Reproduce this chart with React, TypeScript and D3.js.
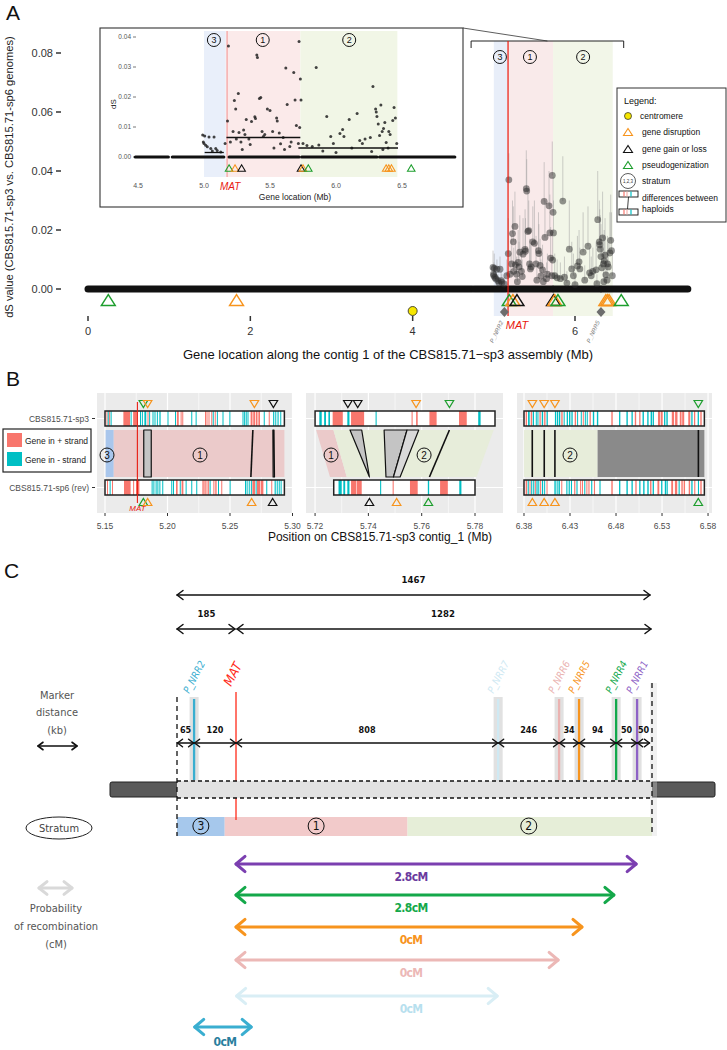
import React from "react";
import * as d3 from "d3";

const FONT = "'Liberation Sans', Arial, sans-serif";
const CFONT = "'DejaVu Sans Condensed','DejaVu Sans',sans-serif";

// ---------------- Panel A data ----------------
const mainXTicks = [0, 2, 4, 6];
const mainYTicks = [0, 0.02, 0.04, 0.06, 0.08];
const insetXTicks = [4.5, 5.0, 5.5, 6.0, 6.5];
const insetYTicks = [0, 0.01, 0.02, 0.03, 0.04];
const strataIds = ["3", "1", "2"];
const strataStart = [5.0, 5.165, 5.73];
const strataEnd = [5.165, 5.73, 6.465];
const strataLabelPos = [5.075, 5.445, 6.1];
const strataMedian = [0.0015, 0.0065, 0.003];
const medianStart = [5.005, 5.17, 5.715];
const medianEnd = [5.15, 5.73, 6.47];
const matPos = 5.175;
const centromerePos = 4.0;
const bracketRange = [4.72, 6.6];
const zeroRuns = [[0, 4.73], [4.76, 5.15], [5.19, 5.72], [5.74, 6.31], [6.33, 7.39]];
// [position Mb, dS, upper bound]
const dsPoints = [
  [4.99, 0.0073, 0.013], [5.005, 0.007, 0.012], [5.038, 0.0067, 0.01], [5.076, 0.0067, 0.011],
  [4.995, 0.005, 0.008], [5.013, 0.0039, 0.007], [5.025, 0.0034, 0.006], [5.051, 0.0028, 0.005],
  [5.089, 0.0028, 0.006], [5.0, 0.0045, 0.009], [5.063, 0.002, 0.004], [5.1, 0.0022, 0.005], [5.127, 0.0017, 0.004],
  [5.185, 0.037, 0.046], [5.178, 0.012, 0.024], [5.16, 0.0045, 0.01], [5.2, 0.005, 0.012],
  [5.23, 0.0188, 0.03], [5.26, 0.0212, 0.033], [5.24, 0.016, 0.028], [5.22, 0.0085, 0.018],
  [5.245, 0.006, 0.014], [5.265, 0.0082, 0.017], [5.28, 0.005, 0.011], [5.3, 0.009, 0.02],
  [5.31, 0.0075, 0.016], [5.32, 0.0125, 0.025], [5.34, 0.006, 0.014], [5.36, 0.0118, 0.024],
  [5.385, 0.0134, 0.027], [5.39, 0.0128, 0.024], [5.4, 0.034, 0.047], [5.405, 0.0332, 0.044],
  [5.42, 0.0195, 0.034], [5.43, 0.0198, 0.03], [5.44, 0.0085, 0.017], [5.46, 0.0075, 0.016],
  [5.48, 0.016, 0.028], [5.5, 0.0155, 0.03], [5.52, 0.0085, 0.018], [5.53, 0.003, 0.008],
  [5.55, 0.013, 0.026], [5.555, 0.012, 0.022], [5.58, 0.0044, 0.01], [5.6, 0.0065, 0.015],
  [5.62, 0.0297, 0.043], [5.63, 0.0175, 0.03], [5.65, 0.0035, 0.009], [5.66, 0.005, 0.012],
  [5.68, 0.0282, 0.04], [5.69, 0.019, 0.032], [5.7, 0.0105, 0.021], [5.72, 0.0385, 0.05],
  [5.73, 0.026, 0.038], [5.735, 0.019, 0.03], [5.725, 0.0098, 0.02], [5.715, 0.0045, 0.011],
  [5.45, 0.0068, 0.015], [5.35, 0.0042, 0.01], [5.29, 0.0025, 0.007], [5.57, 0.008, 0.017], [5.61, 0.0025, 0.007],
  [5.75, 0.0045, 0.012], [5.78, 0.0038, 0.01], [5.82, 0.0035, 0.009], [5.85, 0.0298, 0.045],
  [5.87, 0.004, 0.011], [5.9, 0.002, 0.006], [5.93, 0.0135, 0.03], [5.96, 0.0068, 0.016],
  [5.98, 0.0045, 0.012], [6.0, 0.0015, 0.005], [6.03, 0.0078, 0.018], [6.05, 0.0092, 0.02],
  [6.06, 0.0068, 0.014], [6.1, 0.0125, 0.026], [6.12, 0.003, 0.008], [6.16, 0.0145, 0.028],
  [6.18, 0.0055, 0.014], [6.2, 0.0045, 0.011], [6.22, 0.006, 0.014], [6.26, 0.0065, 0.016],
  [6.28, 0.0235, 0.04], [6.3, 0.016, 0.03], [6.305, 0.015, 0.027], [6.31, 0.0135, 0.025],
  [6.32, 0.011, 0.022], [6.33, 0.0072, 0.016], [6.34, 0.0173, 0.033], [6.35, 0.0085, 0.018],
  [6.36, 0.0095, 0.02], [6.37, 0.0115, 0.024], [6.38, 0.0048, 0.012], [6.4, 0.0085, 0.018],
  [6.41, 0.0075, 0.016], [6.43, 0.0122, 0.026], [6.44, 0.0165, 0.032], [6.45, 0.013, 0.026],
  [6.46, 0.0045, 0.012], [6.395, 0.003, 0.008], [6.355, 0.0025, 0.007], [6.27, 0.0018, 0.005],
];
const eventPosA = [0.25, 1.83, 5.19, 5.235, 5.285, 5.735, 5.75, 5.79, 6.38, 6.4, 6.42, 6.57];
const eventTypeA = ["pseudo", "dis", "pseudo", "dis", "gain", "gain", "dis", "pseudo", "dis", "dis", "dis", "pseudo"];
const markerNamesA = ["P_NRR2", "P_NRR5"];
const markerPosA = [5.13, 6.32];
const legendALabels = ["centromere", "gene disruption", "gene gain or loss", "pseudogenization", "stratum"];

// ---------------- Panel B data ----------------
const facetDomains = [[5.1436, 5.2996], [5.7166, 5.7905], [6.3724, 6.5843]];
const facetTicks = [[5.15, 5.2, 5.25, 5.3], [5.72, 5.74, 5.76, 5.78], [6.38, 6.43, 6.48, 6.53, 6.58]];
const facetMinor = [[5.175, 5.225, 5.275], [5.73, 5.75, 5.77], [6.405, 6.455, 6.505, 6.555]];
const barsSp3 = [[5.15, 5.2935], [5.72, 5.7875], [6.38, 6.576]];
const barsSp6 = [[5.15, 5.2935], [5.727, 5.78], [6.38, 6.576]];
const rowLabels = ["CBS815.71-sp3", "CBS815.71-sp6 (rev)"];
// [start, end, strand]
const genesF1Sp3 = [
  [5.1512, 5.1518, 1], [5.1522, 5.1528, -1], [5.1533, 5.1539, 1], [5.1545, 5.1551, -1],
  [5.1647, 5.17, 1], [5.1705, 5.1712, -1], [5.1725, 5.1755, 1],
  [5.178, 5.1788, -1], [5.1795, 5.1803, -1], [5.1815, 5.183, -1], [5.184, 5.1848, 1], [5.1853, 5.186, -1],
  [5.188, 5.1888, -1], [5.1896, 5.1904, -1], [5.1915, 5.1923, -1], [5.1935, 5.1945, -1],
  [5.2, 5.2006, -1], [5.206, 5.2068, -1], [5.2075, 5.209, 1], [5.2105, 5.2112, 1], [5.2118, 5.2124, 1],
  [5.219, 5.2197, -1], [5.2225, 5.2232, -1],
  [5.23, 5.2306, 1], [5.2312, 5.232, 1], [5.2328, 5.2334, 1], [5.235, 5.2357, 1], [5.2362, 5.2368, -1], [5.2378, 5.2384, 1], [5.2395, 5.2401, -1],
  [5.244, 5.2447, -1], [5.2495, 5.2502, -1],
  [5.26, 5.2607, -1], [5.2613, 5.262, -1], [5.2626, 5.2633, -1], [5.264, 5.2648, -1],
  [5.2665, 5.268, 1], [5.2686, 5.27, 1], [5.2706, 5.272, 1], [5.2727, 5.274, 1],
  [5.277, 5.2776, -1], [5.281, 5.2816, 1],
  [5.2845, 5.2854, -1], [5.2862, 5.287, -1], [5.288, 5.2889, -1], [5.2902, 5.291, -1],
];
const genesF1Sp6 = [
  [5.1516, 5.1522, 1], [5.1537, 5.1543, -1], [5.1556, 5.1562, 1],
  [5.1652, 5.1705, 1], [5.1725, 5.1731, 1], [5.1748, 5.1775, 1],
  [5.1873, 5.188, -1], [5.1887, 5.1894, -1], [5.1905, 5.1912, -1], [5.1919, 5.1926, -1], [5.1935, 5.1942, -1], [5.1958, 5.1965, -1],
  [5.203, 5.2036, -1], [5.2044, 5.205, -1], [5.2068, 5.2081, 1], [5.2098, 5.2104, -1], [5.2113, 5.2127, 1], [5.2145, 5.2151, -1],
  [5.219, 5.2196, -1], [5.223, 5.2236, -1],
  [5.2279, 5.229, 1], [5.2295, 5.2306, 1], [5.2312, 5.232, 1], [5.2325, 5.2332, 1], [5.2337, 5.2343, -1],
  [5.2367, 5.2375, 1], [5.2382, 5.2393, 1], [5.2404, 5.241, -1], [5.243, 5.2437, 1],
  [5.2497, 5.2503, -1],
  [5.262, 5.2627, -1], [5.2633, 5.264, -1], [5.265, 5.2657, -1], [5.2667, 5.2673, -1],
  [5.2679, 5.27, 1], [5.2705, 5.2711, -1], [5.2716, 5.274, 1], [5.2745, 5.2767, 1],
  [5.279, 5.2796, -1], [5.283, 5.2836, 1],
  [5.2857, 5.2866, -1], [5.2874, 5.2882, -1], [5.289, 5.2898, -1], [5.2905, 5.2913, -1],
];
const genesF2Sp3 = [
  [5.7216, 5.7225, -1], [5.7234, 5.7241, -1], [5.725, 5.7256, -1], [5.7266, 5.7304, 1],
  [5.7321, 5.7329, -1], [5.7335, 5.7384, 1], [5.7427, 5.7431, -1], [5.7562, 5.7566, 1],
  [5.7579, 5.7585, 1], [5.7629, 5.7656, 1], [5.774, 5.7769, 1], [5.7812, 5.7821, -1],
];
const genesF2Sp6 = [
  [5.7288, 5.73, -1], [5.7306, 5.7313, -1], [5.7321, 5.7329, -1], [5.7335, 5.7354, 1],
  [5.7356, 5.7375, 1], [5.7444, 5.7448, -1], [5.7491, 5.7495, 1], [5.7556, 5.7585, 1],
  [5.7623, 5.7628, -1], [5.7669, 5.7698, 1], [5.7741, 5.7749, -1],
];
const genesF3Sp3 = [
  [6.3818, 6.3833, 1], [6.3844, 6.3862, -1], [6.3873, 6.3888, 1], [6.3895, 6.3909, -1],
  [6.3928, 6.3939, -1], [6.3946, 6.3957, -1], [6.3968, 6.3982, 1], [6.3993, 6.4008, -1],
  [6.4019, 6.4034, 1], [6.4045, 6.4059, -1], [6.4136, 6.415, -1], [6.4158, 6.4172, -1],
  [6.418, 6.4194, -1], [6.4205, 6.422, 1], [6.4231, 6.4242, -1], [6.4264, 6.4278, -1],
  [6.4289, 6.4304, -1], [6.4315, 6.4329, -1], [6.4351, 6.4366, 1], [6.4377, 6.4388, -1],
  [6.4417, 6.4428, -1], [6.4439, 6.445, 1], [6.4461, 6.4472, -1], [6.4482, 6.4493, -1],
  [6.4512, 6.4526, 1], [6.4548, 6.4563, -1], [6.4592, 6.4607, -1], [6.4749, 6.4764, 1],
  [6.4833, 6.4847, -1], [6.4913, 6.4928, -1], [6.4968, 6.4982, -1], [6.5004, 6.5019, 1],
  [6.5052, 6.5066, 1], [6.5088, 6.5103, -1], [6.5139, 6.5154, -1], [6.5176, 6.5191, -1],
  [6.5198, 6.5212, -1], [6.5256, 6.5278, 1], [6.5285, 6.5307, 1], [6.5322, 6.5336, -1],
  [6.5347, 6.5362, -1], [6.5406, 6.5431, 1], [6.5442, 6.5468, 1], [6.5493, 6.5512, 1],
  [6.5519, 6.5541, 1], [6.5585, 6.5607, 1], [6.5618, 6.5632, -1], [6.5647, 6.5661, 1],
  [6.5687, 6.5701, -1], [6.5716, 6.5731, 1],
];
const genesF3Sp6 = [
  [6.3818, 6.3833, 1], [6.384, 6.3852, -1], [6.386, 6.387, 1], [6.3878, 6.389, -1],
  [6.39, 6.3912, -1], [6.3918, 6.3928, 1], [6.3935, 6.3948, -1], [6.3955, 6.3965, -1],
  [6.3975, 6.3985, 1], [6.3995, 6.4008, -1], [6.4019, 6.403, -1], [6.4045, 6.4055, 1],
  [6.413, 6.4145, -1], [6.4155, 6.4165, -1], [6.4175, 6.419, -1], [6.4205, 6.4215, 1],
  [6.426, 6.4272, -1], [6.4285, 6.4298, -1], [6.431, 6.4322, -1], [6.4345, 6.4358, 1],
  [6.437, 6.4382, -1], [6.441, 6.442, 1], [6.443, 6.444, 1], [6.4455, 6.4466, -1],
  [6.4478, 6.4488, 1], [6.45, 6.4512, 1], [6.453, 6.4542, -1], [6.456, 6.4572, 1],
  [6.462, 6.4632, -1], [6.4749, 6.4764, 1], [6.4833, 6.4847, -1], [6.4913, 6.4928, -1],
  [6.4968, 6.4982, -1], [6.501, 6.5024, 1], [6.5052, 6.5066, -1], [6.5095, 6.511, -1],
  [6.514, 6.5155, -1], [6.517, 6.5185, 1], [6.5198, 6.5212, -1], [6.525, 6.527, 1],
  [6.529, 6.5304, -1], [6.533, 6.5345, -1], [6.535, 6.5362, -1], [6.54, 6.542, 1],
  [6.544, 6.5465, 1], [6.548, 6.5492, -1], [6.551, 6.5525, 1], [6.5535, 6.555, 1],
  [6.559, 6.5605, 1], [6.5618, 6.5632, -1], [6.565, 6.5662, 1], [6.569, 6.5702, -1], [6.5716, 6.5731, 1],
];
// [topStart, topEnd, bottomStart, bottomEnd, kind]
const linksF1 = [
  [5.1505, 5.157, 5.1505, 5.157, "s3"], [5.157, 5.2935, 5.157, 5.2935, "s1"],
  [5.181, 5.187, 5.181, 5.187, "grey"], [5.2683, 5.2683, 5.2667, 5.2667, "line"],
  [5.2843, 5.2852, 5.2845, 5.2856, "grey"],
];
const linksF2 = [
  [5.7204, 5.7269, 5.7256, 5.7319, "s1"], [5.7269, 5.787, 5.7319, 5.7806, "s2"],
  [5.7331, 5.7375, 5.7404, 5.7404, "grey"], [5.7459, 5.7545, 5.7466, 5.7494, "grey"],
  [5.7545, 5.7589, 5.7494, 5.7519, "grey2"], [5.7704, 5.7704, 5.7629, 5.7629, "line"],
];
const linksF3 = [
  [6.38, 6.46, 6.38, 6.46, "s2"], [6.46, 6.576, 6.46, 6.576, "dark"],
  [6.389, 6.389, 6.389, 6.389, "line"], [6.402, 6.402, 6.402, 6.402, "line"],
  [6.4136, 6.4136, 6.4136, 6.4136, "line"], [6.5695, 6.5695, 6.5695, 6.5695, "line"],
];
// [pos, type, side]
const eventsF1 = [
  [5.1807, "pseudo", "top"], [5.1841, "dis", "top"], [5.2695, "dis", "top"], [5.2847, "gain", "top"],
  [5.1807, "pseudo", "bot"], [5.1841, "dis", "bot"], [5.2673, "dis", "bot"], [5.2841, "gain", "bot"],
];
const eventsF2 = [
  [5.7323, "gain", "top"], [5.736, "gain", "top"], [5.7579, "dis", "top"], [5.7704, "pseudo", "top"],
  [5.7404, "gain", "bot"], [5.7506, "dis", "bot"], [5.7625, "pseudo", "bot"],
];
const eventsF3 = [
  [6.3891, "dis", "top"], [6.4019, "dis", "top"], [6.4136, "dis", "top"], [6.5694, "pseudo", "top"],
  [6.3891, "dis", "bot"], [6.4019, "dis", "bot"], [6.4136, "dis", "bot"], [6.5694, "pseudo", "bot"],
];
const strataLabelsB = [[[5.1516, "3"], [5.226, "1"]], [[5.726, "1"], [5.7609, "2"]], [[6.43, "2"]]];
const matPosB = 5.1759;

// ---------------- Panel C data ----------------
const regionKb = 1467;
const matKb = 185;
const markerNamesC = ["P_NRR2", "MAT", "P_NRR7", "P_NRR6", "P_NRR5", "P_NRR4", "P_NRR1"];
// positions along the schematic (drawn, not to scale), in kb-equivalent units
const markerDrawKbC = [53, 183, 996, 1185, 1247, 1362, 1427];
const markerColorsC = ["#3aaed0", "#ff2a1a", "#cfe9f3", "#eab2b0", "#f7941d", "#12a84b", "#8e62c6"];
const distLabelsC = [65, 120, 808, 246, 34, 94, 50, 50];
const strataKbStart = [0, 148, 715];
const strataKbEnd = [148, 715, 1467];
const strataKbIds = ["3", "1", "2"];
const cmFromKb = [183, 183, 183, 183, 185, 55];
const cmToKb = [1424, 1355, 1256, 1182, 993, 230];
const cmLabels = ["2.8cM", "2.8cM", "0cM", "0cM", "0cM", "0cM"];
const cmColors = ["#7b3fb0", "#14a84a", "#f7941d", "#ecb8b6", "#d9eef5", "#3aaed0"];
const cmTextColors = ["#6a3a9e", "#14a84a", "#f7941d", "#ecb8b6", "#b7e0ee", "#2a7f9e"];

const evColor: Record<string, string> = { dis: "#f7941d", gain: "#111111", pseudo: "#1e9e2e" };
const GENE_PLUS = "#f8766d";
const GENE_MINUS = "#00bfc4";

const tri = (cx: number, cy: number, w: number, h: number, down: boolean) =>
  down
    ? `M${cx - w / 2},${cy - h / 2}L${cx + w / 2},${cy - h / 2}L${cx},${cy + h / 2}Z`
    : `M${cx - w / 2},${cy + h / 2}L${cx + w / 2},${cy + h / 2}L${cx},${cy - h / 2}Z`;

function DArrow({ x1, x2, y, color, w, head, ratio = 0.75 }: any) {
  return (
    <g stroke={color} strokeWidth={w} fill="none" strokeLinecap="round" strokeLinejoin="round">
      <line x1={x1} y1={y} x2={x2} y2={y} />
      <path d={`M${x1 + head},${y - head * ratio}L${x1},${y}L${x1 + head},${y + head * ratio}`} />
      <path d={`M${x2 - head},${y - head * ratio}L${x2},${y}L${x2 - head},${y + head * ratio}`} />
    </g>
  );
}

function Circled({ x, y, r, label, size }: any) {
  return (
    <g>
      <circle cx={x} cy={y} r={r} fill="none" stroke="#111" strokeWidth={1} />
      <text x={x} y={y + size * 0.36} fontSize={size} textAnchor="middle" fill="#111">{label}</text>
    </g>
  );
}

function PanelA() {
  const xA = d3.scaleLinear().domain([0, 6]).range([88, 575]);
  const yA = d3.scaleLinear().domain([0, 0.08]).range([289, 53]);
  const xI = d3.scaleLinear().domain([4.5, 6.5]).range([138, 402]);
  const yI = d3.scaleLinear().domain([0, 0.04]).range([157, 37]);
  const mainFill = ["#e8eef9", "#f9eaea", "#f2f6e8"];
  const insetFill = ["#e9effa", "#fbeaea", "#f1f6e6"];
  const insetLo = 4.48, insetHi = 6.9;
  const bx0 = xA(bracketRange[0]), bx1 = xA(bracketRange[1]);
  return (
    <g>
      <text x={6} y={20} fontSize={21} fill="#111">A</text>
      {strataIds.map((id, i) => (
        <rect key={id} x={xA(strataStart[i])} y={41} width={xA(strataEnd[i]) - xA(strataStart[i])} height={275} fill={mainFill[i]} />
      ))}
      {strataIds.map((id, i) => (
        <Circled key={"c" + id} x={xA(strataLabelPos[i])} y={57} r={6.5} label={id} size={9} />
      ))}
      <path d={`M${bx0},48L${bx0},41L${bx1},41L${bx1},48`} fill="none" stroke="#222" strokeWidth={1} />
      <line x1={463} y1={28} x2={(bx0 + bx1) / 2} y2={41} stroke="#333" strokeWidth={0.8} />
      {mainYTicks.map((t) => (
        <g key={t}>
          <text x={53} y={yA(t) + 4} fontSize={11} textAnchor="end" fill="#333">{t.toFixed(2)}</text>
          <line x1={56} x2={61} y1={yA(t)} y2={yA(t)} stroke="#333" strokeWidth={1.5} />
        </g>
      ))}
      <text transform={`translate(13,177) rotate(-90)`} fontSize={11.2} textAnchor="middle" fill="#222">
        dS value (CBS815.71-sp3 vs. CBS815.71-sp6 genomes)
      </text>
      {dsPoints.map((p, i) => (
        <line key={"e" + i} x1={xA(p[0])} x2={xA(p[0])} y1={yA(p[1])} y2={yA(p[2])} stroke="#999" strokeOpacity={0.6} strokeWidth={0.8} />
      ))}
      {zeroRuns.map((r, i) => (
        <line key={"z" + i} x1={xA(r[0])} x2={xA(r[1])} y1={yA(0)} y2={yA(0)} stroke="#111" strokeWidth={7} strokeLinecap="round" />
      ))}
      {dsPoints.map((p, i) => (
        <circle key={"p" + i} cx={xA(p[0])} cy={yA(p[1])} r={3.4} fill="#2a2a2a" fillOpacity={0.5} />
      ))}
      <line x1={xA(matPos)} x2={xA(matPos)} y1={41} y2={316} stroke="#e8190f" strokeWidth={1.2} />
      {eventPosA.map((p, i) => (
        <path key={"t" + i} d={tri(xA(p), 300, 14, 11, false)} fill="none" stroke={evColor[eventTypeA[i]]} strokeWidth={1.4} />
      ))}
      <circle cx={xA(centromerePos)} cy={311} r={4.5} fill="#f6e600" stroke="#222" strokeWidth={0.8} />
      {markerNamesA.map((m, i) => (
        <g key={m}>
          <path d={`M${xA(markerPosA[i])},307L${xA(markerPosA[i]) + 4.5},312L${xA(markerPosA[i])},317L${xA(markerPosA[i]) - 4.5},312Z`} fill="#6d6d6d" />
          <text transform={`translate(${xA(markerPosA[i]) - 1},${322}) rotate(-65)`} fontSize={6} fill="#777" textAnchor="end" fontStyle="italic">{m}</text>
        </g>
      ))}
      {mainXTicks.map((t) => (
        <g key={"x" + t}>
          <line x1={xA(t)} x2={xA(t)} y1={316} y2={321} stroke="#333" strokeWidth={1.5} />
          <text x={xA(t)} y={335} fontSize={11} textAnchor="middle" fill="#333">{t}</text>
        </g>
      ))}
      <text x={xA(matPos) + 9} y={329} fontSize={11} fill="#e8190f" fontStyle="italic" textAnchor="middle">MAT</text>
      <text x={388} y={359} fontSize={13} textAnchor="middle" fill="#111">
        Gene location along the contig 1 of the CBS815.71−sp3 assembly (Mb)
      </text>

      {/* inset */}
      <rect x={100} y={28} width={363} height={179} fill="#fff" stroke="#333" strokeWidth={1.1} />
      {strataIds.map((id, i) => (
        <rect key={"is" + id} x={xI(strataStart[i])} y={31} width={xI(strataEnd[i]) - xI(strataStart[i])} height={146} fill={insetFill[i]} />
      ))}
      <line x1={xI(matPos)} x2={xI(matPos)} y1={31} y2={177} stroke="#f08a8a" strokeWidth={0.9} />
      {strataIds.map((id, i) => (
        <Circled key={"ic" + id} x={xI(strataLabelPos[i])} y={40} r={6.5} label={id} size={9} />
      ))}
      {insetYTicks.map((t) => (
        <g key={"iy" + t}>
          <text x={131} y={yI(t) + 2.3} fontSize={6.5} textAnchor="end" fill="#555">{t.toFixed(2)}</text>
          <line x1={133} x2={136} y1={yI(t)} y2={yI(t)} stroke="#555" strokeWidth={0.8} />
        </g>
      ))}
      <text transform={`translate(116,104) rotate(-90)`} fontSize={8} textAnchor="middle" fill="#222">dS</text>
      {zeroRuns
        .filter((r) => r[1] > insetLo && r[0] < insetHi)
        .map((r, i) => (
          <line key={"iz" + i} x1={xI(Math.max(r[0], insetLo))} x2={xI(Math.min(r[1], insetHi))} y1={yI(0)} y2={yI(0)} stroke="#111" strokeWidth={3.2} strokeLinecap="round" />
        ))}
      {dsPoints.map((p, i) => (
        <circle key={"ip" + i} cx={xI(p[0])} cy={yI(p[1])} r={1.5} fill="#222" fillOpacity={0.85} />
      ))}
      {strataIds.map((id, i) => (
        <line key={"im" + id} x1={xI(medianStart[i])} x2={xI(medianEnd[i])} y1={yI(strataMedian[i])} y2={yI(strataMedian[i])} stroke="#111" strokeWidth={1.3} />
      ))}
      {eventPosA.map((p, i) =>
        p > insetLo && p < insetHi ? (
          <path key={"it" + i} d={tri(xI(p), 168, 7.5, 6.5, false)} fill="none" stroke={evColor[eventTypeA[i]]} strokeWidth={1.1} />
        ) : null
      )}
      {insetXTicks.map((t) => (
        <text key={"ix" + t} x={xI(t)} y={188} fontSize={7} textAnchor="middle" fill="#555">{t.toFixed(1)}</text>
      ))}
      <text x={xI(matPos) + 3} y={190} fontSize={10} fill="#e8190f" fontStyle="italic" textAnchor="middle">MAT</text>
      <text x={295} y={200} fontSize={8.5} textAnchor="middle" fill="#222">Gene location (Mb)</text>

      {/* legend */}
      <rect x={617} y={88} width={109} height={134} fill="#fff" stroke="#333" strokeWidth={1} />
      <text x={624} y={104} fontSize={9} fill="#111">Legend:</text>
      <circle cx={628} cy={116} r={3.5} fill="#f6e600" stroke="#222" strokeWidth={0.7} />
      <path d={tri(628, 132, 9, 7, false)} fill="none" stroke={evColor.dis} strokeWidth={1.1} />
      <path d={tri(628, 149, 9, 7, false)} fill="none" stroke={evColor.gain} strokeWidth={1.1} />
      <path d={tri(628, 165, 9, 7, false)} fill="none" stroke={evColor.pseudo} strokeWidth={1.1} />
      <circle cx={628} cy={181} r={7.5} fill="#fff" stroke="#333" strokeWidth={0.8} />
      <text x={628} y={183} fontSize={4.5} textAnchor="middle" fill="#333">1,2,3</text>
      {legendALabels.map((l, i) => (
        <text key={l} x={i === 0 ? 640 : 642} y={[119, 135, 152, 168, 184][i]} fontSize={8.5} fill="#111">{l}</text>
      ))}
      <rect x={619} y={191} width={19} height={6} fill="#fff" stroke="#111" strokeWidth={0.9} />
      <rect x={619} y={209} width={19} height={6} fill="#fff" stroke="#111" strokeWidth={0.9} />
      <line x1={624} x2={624} y1={191.5} y2={196.5} stroke={GENE_PLUS} strokeWidth={1.2} />
      <line x1={627} x2={627} y1={191.5} y2={196.5} stroke="#f7b5b0" strokeWidth={1.2} />
      <line x1={631} x2={631} y1={191.5} y2={196.5} stroke={GENE_MINUS} strokeWidth={1.2} />
      <line x1={624} x2={624} y1={209.5} y2={214.5} stroke={GENE_PLUS} strokeWidth={1.2} />
      <line x1={627} x2={627} y1={209.5} y2={214.5} stroke="#f7b5b0" strokeWidth={1.2} />
      <line x1={631} x2={631} y1={209.5} y2={214.5} stroke={GENE_MINUS} strokeWidth={1.2} />
      <line x1={628.5} x2={627.5} y1={197} y2={209} stroke="#111" strokeWidth={0.8} />
      <text x={642} y={201} fontSize={8.5} fill="#111">differences between</text>
      <text x={642} y={212} fontSize={8.5} fill="#111">haploids</text>
    </g>
  );
}

function PanelB() {
  const ranges = [[97, 292], [306, 503], [517, 712]];
  const genes3 = [genesF1Sp3, genesF2Sp3, genesF3Sp3];
  const genes6 = [genesF1Sp6, genesF2Sp6, genesF3Sp6];
  const links = [linksF1, linksF2, linksF3];
  const events = [eventsF1, eventsF2, eventsF3];
  const top = 393, bottom = 513;
  const y3 = [411, 426], y6 = [480, 495], m0 = 430, m1 = 477;
  const kindFill: Record<string, string> = {
    s3: "#a8c6ec", s1: "#ebcaca", s2: "#e7edda", grey: "#c4c4c4", grey2: "#d9d9d9", dark: "#8a8a8a",
  };
  return (
    <g>
      <text x={6} y={386} fontSize={21} fill="#111">B</text>
      {facetDomains.map((dom, f) => {
        const x = d3.scaleLinear().domain(dom).range(ranges[f]);
        return (
          <g key={f}>
            <rect x={ranges[f][0]} y={top} width={ranges[f][1] - ranges[f][0]} height={bottom - top} fill="#ebebeb" />
            {facetMinor[f].map((t) => (
              <line key={"mi" + t} x1={x(t)} x2={x(t)} y1={top} y2={bottom} stroke="#fff" strokeWidth={0.6} />
            ))}
            {facetTicks[f].map((t) => (
              <line key={"ma" + t} x1={x(t)} x2={x(t)} y1={top} y2={bottom} stroke="#fff" strokeWidth={1.2} />
            ))}
            <line x1={ranges[f][0]} x2={ranges[f][1]} y1={418.5} y2={418.5} stroke="#fff" strokeWidth={1.2} />
            <line x1={ranges[f][0]} x2={ranges[f][1]} y1={487.5} y2={487.5} stroke="#fff" strokeWidth={1.2} />
            {links[f].map((l: any, i) => {
              const pts = `${x(l[0])},${m0} ${x(l[1])},${m0} ${x(l[3])},${m1} ${x(l[2])},${m1}`;
              if (l[4] === "line")
                return <line key={i} x1={x(l[0])} y1={m0} x2={x(l[2])} y2={m1} stroke="#111" strokeWidth={1.6} />;
              const outlined = l[4] === "grey" || l[4] === "grey2";
              return (
                <polygon key={i} points={pts} fill={kindFill[l[4]]} stroke={outlined ? "#111" : "none"} strokeWidth={1.2} strokeLinejoin="round" />
              );
            })}
            {strataLabelsB[f].map((s: any, i) => (
              <Circled key={"sl" + i} x={x(s[0])} y={455} r={7} label={s[1]} size={10} />
            ))}
            <rect x={x(barsSp3[f][0])} y={y3[0]} width={x(barsSp3[f][1]) - x(barsSp3[f][0])} height={y3[1] - y3[0]} fill="#fff" />
            {genes3[f].map((g, i) => (
              <rect key={"g3" + i} x={x(g[0])} y={y3[0]} width={Math.max(1, x(g[1]) - x(g[0]))} height={y3[1] - y3[0]} fill={g[2] > 0 ? GENE_PLUS : GENE_MINUS} />
            ))}
            <rect x={x(barsSp3[f][0])} y={y3[0]} width={x(barsSp3[f][1]) - x(barsSp3[f][0])} height={y3[1] - y3[0]} fill="none" stroke="#222" strokeWidth={1.5} />
            <rect x={x(barsSp6[f][0])} y={y6[0]} width={x(barsSp6[f][1]) - x(barsSp6[f][0])} height={y6[1] - y6[0]} fill="#fff" />
            {genes6[f].map((g, i) => (
              <rect key={"g6" + i} x={x(g[0])} y={y6[0]} width={Math.max(1, x(g[1]) - x(g[0]))} height={y6[1] - y6[0]} fill={g[2] > 0 ? GENE_PLUS : GENE_MINUS} />
            ))}
            <rect x={x(barsSp6[f][0])} y={y6[0]} width={x(barsSp6[f][1]) - x(barsSp6[f][0])} height={y6[1] - y6[0]} fill="none" stroke="#222" strokeWidth={1.5} />
            {events[f].map((e: any, i) => (
              <path key={"ev" + i} d={tri(x(e[0]), e[2] === "top" ? 404 : 502, 8.5, 7, e[2] === "top")} fill="none" stroke={evColor[e[1]]} strokeWidth={1.2} />
            ))}
            {f === 0 && (
              <g>
                <line x1={x(matPosB)} x2={x(matPosB)} y1={402} y2={503} stroke="#e8190f" strokeWidth={1.1} />
                <text x={x(matPosB)} y={511} fontSize={8} fill="#e8190f" fontStyle="italic" textAnchor="middle">MAT</text>
              </g>
            )}
            {facetTicks[f].map((t) => (
              <g key={"tk" + t}>
                <line x1={x(t)} x2={x(t)} y1={bottom} y2={bottom + 3} stroke="#333" strokeWidth={1} />
                <text x={x(t)} y={529} fontSize={8.5} textAnchor="middle" fill="#4d4d4d">{t.toFixed(2)}</text>
              </g>
            ))}
          </g>
        );
      })}
      {rowLabels.map((r, i) => (
        <g key={r}>
          <text x={89} y={(i === 0 ? 418.5 : 487.5) + 3} fontSize={8.5} textAnchor="end" fill="#4d4d4d">{r}</text>
          <line x1={92} x2={95} y1={i === 0 ? 418.5 : 487.5} y2={i === 0 ? 418.5 : 487.5} stroke="#333" strokeWidth={1} />
        </g>
      ))}
      <rect x={3} y={429} width={88} height={43} fill="#fff" stroke="#222" strokeWidth={1.2} />
      <rect x={7} y={433} width={15} height={14} fill={GENE_PLUS} />
      <rect x={7} y={452} width={15} height={14} fill={GENE_MINUS} />
      <text x={25} y={443.5} fontSize={8.5} fill="#222">Gene in + strand</text>
      <text x={25} y={462.5} fontSize={8.5} fill="#222">Gene in - strand</text>
      <text x={380} y={541} fontSize={12} textAnchor="middle" fill="#111">Position on CBS815.71-sp3 contig_1 (Mb)</text>
    </g>
  );
}

function PanelC() {
  const xC = d3.scaleLinear().domain([0, regionKb]).range([177, 650]);
  const stFill = ["#a6c8ec", "#f2caca", "#e6eed8"];
  const bounds = [0, ...markerDrawKbC, regionKb];
  const xMat = xC(markerDrawKbC[1]);
  return (
    <g fontFamily={CFONT}>
      <text x={4} y={578} fontSize={21} fill="#111" fontFamily={FONT}>C</text>
      <text x={(xC(0) + xC(regionKb)) / 2} y={583} fontSize={9.5} fontWeight="bold" textAnchor="middle" fill="#111">{regionKb}</text>
      <DArrow x1={xC(0)} x2={xC(regionKb)} y={595} color="#111" w={1.5} head={6} />
      <text x={(xC(0) + xMat) / 2} y={617} fontSize={9.5} fontWeight="bold" textAnchor="middle" fill="#111">{matKb}</text>
      <DArrow x1={xC(0)} x2={xMat - 1} y={629} color="#111" w={1.5} head={6} />
      <text x={(xMat + xC(regionKb)) / 2} y={617} fontSize={9.5} fontWeight="bold" textAnchor="middle" fill="#111">{regionKb - matKb}</text>
      <DArrow x1={xMat + 1} x2={xC(regionKb) + 1} y={629} color="#111" w={1.5} head={6} />
      <text x={57} y={699} fontSize={11} textAnchor="middle" fill="#555">Marker</text>
      <text x={57} y={716} fontSize={11} textAnchor="middle" fill="#555">distance</text>
      <text x={57} y={734} fontSize={11} textAnchor="middle" fill="#555">(kb)</text>
      <DArrow x1={38} x2={77} y={746} color="#111" w={1.6} head={5} />
      {markerNamesC.map((m, i) => {
        const xx = xC(markerDrawKbC[i]);
        if (m === "MAT")
          return (
            <g key={m}>
              <line x1={xx} x2={xx} y1={692} y2={820} stroke={markerColorsC[i]} strokeWidth={1.3} />
              <text transform={`translate(${xx - 5},${687}) rotate(-62)`} fontSize={13} fill={markerColorsC[i]} fontStyle="italic">{m}</text>
            </g>
          );
        return (
          <g key={m}>
            <rect x={xx - 4.5} y={697} width={9} height={84} fill="#c4c4c4" fillOpacity={0.5} />
            <line x1={xx} x2={xx} y1={699} y2={780} stroke={markerColorsC[i]} strokeWidth={2.3} />
            <text transform={`translate(${xx - 5},${694}) rotate(-62)`} fontSize={10} fill={markerColorsC[i]} fontStyle="italic">{m}</text>
          </g>
        );
      })}
      {distLabelsC.map((d, i) => {
        const a = xC(bounds[i]), b = xC(bounds[i + 1]);
        return (
          <g key={"d" + i}>
            <DArrow x1={a + 0.5} x2={b - 0.5} y={743} color="#111" w={1.5} head={Math.min(5, (b - a) / 2.5)} />
            <text x={(a + b) / 2} y={733} fontSize={9} fontWeight="bold" textAnchor="middle" fill="#111">{d}</text>
          </g>
        );
      })}
      <rect x={110} y={782} width={605} height={15} rx={2} fill="#5a5a5a" stroke="#222" strokeWidth={1} />
      <rect x={xC(0)} y={781} width={xC(regionKb) - xC(0) + 2} height={17} fill="#e2e2e2" />
      <line x1={xC(0)} x2={xC(regionKb) + 2} y1={781} y2={781} stroke="#111" strokeWidth={1.3} strokeDasharray="4,3" />
      <line x1={xC(0)} x2={xC(regionKb) + 2} y1={798} y2={798} stroke="#111" strokeWidth={1.3} strokeDasharray="4,3" />
      <rect x={xC(regionKb)} y={683} width={7} height={153} fill="#d8d8d8" fillOpacity={0.35} />
      {strataKbIds.map((id, i) => (
        <rect key={"st" + id} x={xC(strataKbStart[i])} y={817} width={xC(strataKbEnd[i]) - xC(strataKbStart[i]) + (i === 2 ? 2 : 0)} height={19} fill={stFill[i]} />
      ))}
      {strataKbIds.map((id, i) => (
        <Circled key={"sc" + id} x={xC((strataKbStart[i] + strataKbEnd[i]) / 2)} y={826} r={8} label={id} size={12} />
      ))}
      <line x1={xMat} x2={xMat} y1={817} y2={820} stroke="#ff2a1a" strokeWidth={1.3} />
      <line x1={xC(0)} x2={xC(0)} y1={697} y2={836} stroke="#111" strokeWidth={1.3} strokeDasharray="5,4" />
      <line x1={xC(regionKb) + 2} x2={xC(regionKb) + 2} y1={683} y2={836} stroke="#111" strokeWidth={1.3} strokeDasharray="5,4" />
      <ellipse cx={59} cy={828} rx={33} ry={11} fill="none" stroke="#222" strokeWidth={1} />
      <text x={59} y={832} fontSize={11} textAnchor="middle" fill="#444">Stratum</text>
      <DArrow x1={39} x2={72} y={888} color="#d9d9d9" w={3} head={8} ratio={0.8} />
      <text x={56} y={912} fontSize={11} textAnchor="middle" fill="#555">Probability</text>
      <text x={56} y={930} fontSize={11} textAnchor="middle" fill="#555">of recombination</text>
      <text x={56} y={948} fontSize={11} textAnchor="middle" fill="#555">(cM)</text>
      {cmLabels.map((l, i) => {
        const ys = [864, 895, 927, 960, 996, 1027][i];
        const a = xC(cmFromKb[i]), b = xC(cmToKb[i]);
        const tx = i === 5 ? (a + b) / 2 + 2 : xC(726);
        return (
          <g key={"cm" + i}>
            <DArrow x1={a} x2={b} y={ys} color={cmColors[i]} w={3} head={9} ratio={0.85} />
            <text x={tx} y={ys + (i === 5 ? 19 : 17)} fontSize={12} fontWeight="bold" textAnchor="middle" fill={cmTextColors[i]} letterSpacing={-0.6}>{l}</text>
          </g>
        );
      })}
    </g>
  );
}

export default function App() {
  return (
    <div style={{ position: "absolute", left: 0, top: 0 }}>
      <svg width={727} height={1050} style={{ display: "block", background: "#fff" }} fontFamily={FONT}>
        <PanelA />
        <PanelB />
        <PanelC />
      </svg>
    </div>
  );
}
